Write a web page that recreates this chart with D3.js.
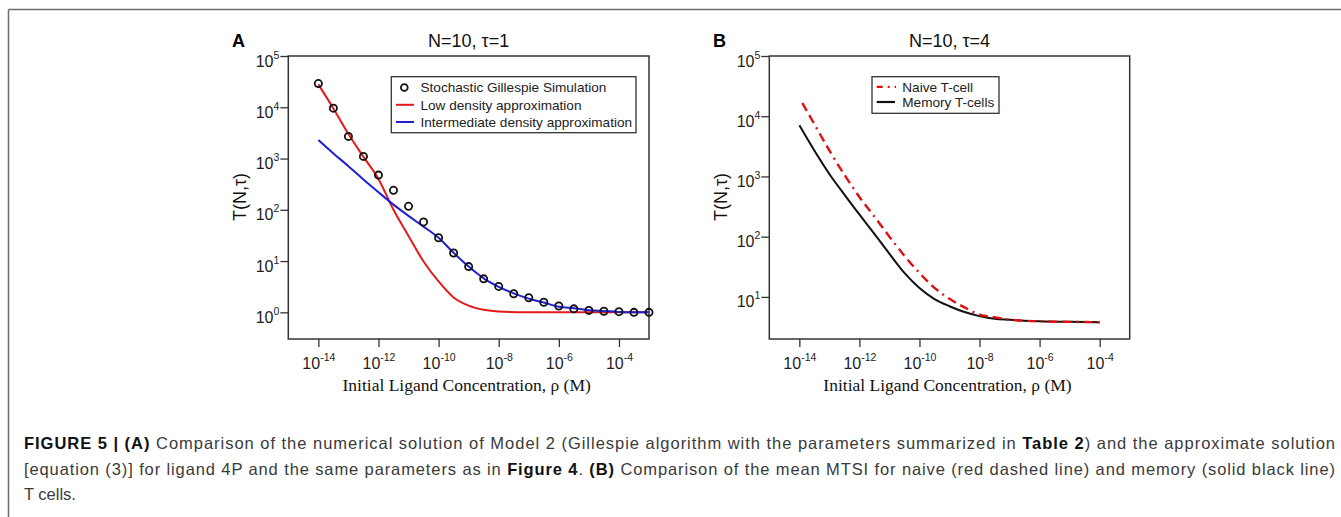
<!DOCTYPE html>
<html><head><meta charset="utf-8">
<script src="https://cdn.jsdelivr.net/npm/d3@7"></script>
<style>
html,body{margin:0;padding:0;background:#fff;}
svg{display:block;}
</style></head>
<body>
<svg id="fig" width="1341" height="517"></svg>
<script>
// ---------- DATA ----------
const xTickValues = [1e-14, 1e-12, 1e-10, 1e-8, 1e-6, 1e-4];
const xTickExps = ["-14", "-12", "-10", "-8", "-6", "-4"];
const yTickValuesA = [1e0, 1e1, 1e2, 1e3, 1e4, 1e5];
const yTickExpsA = ["0", "1", "2", "3", "4", "5"];
const yTickValuesB = [1e1, 1e2, 1e3, 1e4, 1e5];
const yTickExpsB = ["1", "2", "3", "4", "5"];

// Panel A: stochastic Gillespie simulation (circles)
const simConc = [1e-14, 3.16e-14, 1e-13, 3.16e-13, 1e-12, 3.16e-12, 1e-11, 3.16e-11, 1e-10, 3.16e-10,
  1e-9, 3.16e-9, 1e-8, 3.16e-8, 1e-7, 3.16e-7, 1e-6, 3.16e-6, 1e-5, 3.16e-5, 1e-4, 3.16e-4, 1e-3];
const simT = [29000, 9600, 2700, 1100, 475, 240, 117, 58, 28.5, 14.4,
  7.8, 4.5, 3.2, 2.3, 1.93, 1.57, 1.33, 1.17, 1.09, 1.05, 1.03, 1.0, 1.0];

// Panel A: low density approximation (red)
const lowConc = [1e-14, 3.16e-14, 1e-13, 3.16e-13, 1e-12, 3.16e-12, 1e-11, 3.16e-11, 1e-10, 3.16e-10,
  1e-9, 3.16e-9, 1e-8, 1e-7, 1e-6, 1e-5, 1e-4, 1e-3];
const lowT = [28000, 9500, 3000, 1080, 400, 100, 31, 9.8, 4.0, 1.95,
  1.35, 1.12, 1.035, 1.0, 1.0, 1.0, 1.0, 1.0];

// Panel A: intermediate density approximation (blue)
const midConc = [1e-14, 3.16e-14, 1e-13, 3.16e-13, 1e-12, 3.16e-12, 1e-11, 3.16e-11, 1e-10, 3.16e-10,
  1e-9, 3.16e-9, 1e-8, 3.16e-8, 1e-7, 3.16e-7, 1e-6, 3.16e-6, 1e-5, 3.16e-5, 1e-4, 3.16e-4, 1e-3];
const midT = [2300, 1260, 710, 390, 220, 126, 76, 47, 28.5, 14.5,
  7.8, 4.6, 3.15, 2.35, 1.85, 1.55, 1.29, 1.2, 1.1, 1.06, 1.02, 1.0, 1.0];

// Panel B: naive T-cell (red dashed)
const naiveConc = [1.26e-14, 3.16e-14, 1e-13, 3.16e-13, 1e-12, 3.16e-12, 1e-11, 3.16e-11, 1e-10, 3.16e-10,
  1e-9, 3.16e-9, 1e-8, 3.16e-8, 1e-7, 1e-6, 1e-5, 1e-4];
const naiveT = [16600, 7400, 2700, 1070, 457, 215, 100, 48, 25, 14.1,
  9.3, 6.7, 5.1, 4.6, 4.2, 3.94, 3.85, 3.8];

// Panel B: memory T-cells (black solid)
const memConc = [1e-14, 3.16e-14, 1e-13, 3.16e-13, 1e-12, 3.16e-12, 1e-11, 3.16e-11, 1e-10, 3.16e-10,
  1e-9, 3.16e-9, 1e-8, 3.16e-8, 1e-7, 1e-6, 1e-5, 1e-4];
const memT = [7100, 2700, 1100, 500, 234, 111, 52, 25, 14, 9.2,
  7.0, 5.6, 4.8, 4.33, 4.17, 3.94, 3.85, 3.8];

const titles = ["N=10, \u03C4=1", "N=10, \u03C4=4"];
const panelLetters = ["A", "B"];
const legendA = ["Stochastic Gillespie Simulation", "Low density approximation", "Intermediate density approximation"];
const legendB = ["Naive T-cell", "Memory T-cells"];
const xTitle = "Initial Ligand Concentration, \u03C1 (M)";
const yTitle = "T(N,\u03C4)";

// ---------- DRAW ----------
const svg = d3.select("#fig");
const sans = "Arial, 'Liberation Sans', Helvetica, sans-serif";
const serif = "'Times New Roman', 'Liberation Serif', Times, serif";

// figure frame
svg.append("line").attr("x1", 8.5).attr("x2", 1341).attr("y1", 9.5).attr("y2", 9.5)
  .attr("stroke", "#6b6b6b").attr("stroke-width", 1.5);
svg.append("line").attr("x1", 8.5).attr("x2", 8.5).attr("y1", 9.5).attr("y2", 517)
  .attr("stroke", "#6b6b6b").attr("stroke-width", 1.5);

function panel(cfg) {
  const {left, right, top, bottom, yDomain, yTicks, yExps} = cfg;
  const x = d3.scaleLog().domain([1e-15, 1e-3]).range([left, right]);
  const y = d3.scaleLog().domain(yDomain).range([bottom, top]);
  const g = svg.append("g");

  // x axis
  const xa = g.append("g").attr("transform", `translate(0,${bottom})`)
    .call(d3.axisBottom(x).tickValues(xTickValues).tickFormat(() => "").tickSizeOuter(0).tickSize(8));
  xa.select(".domain").remove();
  xa.selectAll(".tick line").attr("stroke", "#333").attr("stroke-width", 1.3);
  xa.selectAll(".tick").each(function(d, i) {
    const t = d3.select(this).select("text").attr("y", 30).attr("dy", null)
      .attr("text-anchor", "middle").attr("font-family", sans).attr("font-size", 16).attr("fill", "#222");
    t.append("tspan").text("10");
    t.append("tspan").attr("dy", -8).attr("font-size", 10.5).text(xTickExps[i]);
  });

  // y axis
  const ya = g.append("g").attr("transform", `translate(${left},0)`)
    .call(d3.axisLeft(y).tickValues(yTicks).tickFormat(() => "").tickSizeOuter(0).tickSize(8));
  ya.select(".domain").remove();
  ya.selectAll(".tick line").attr("stroke", "#333").attr("stroke-width", 1.3);
  ya.selectAll(".tick").each(function(d, i) {
    const t = d3.select(this).select("text").attr("x", -9).attr("dy", null).attr("y", 10)
      .attr("text-anchor", "end").attr("font-family", sans).attr("font-size", 16).attr("fill", "#222");
    t.append("tspan").text("10");
    t.append("tspan").attr("dy", -8).attr("font-size", 10.5).text(yExps[i]);
  });

  // box
  g.append("rect").attr("x", left).attr("y", top).attr("width", right - left).attr("height", bottom - top)
    .attr("fill", "none").attr("stroke", "#333").attr("stroke-width", 1.5);

  // titles
  g.append("text").attr("x", (left + right) / 2).attr("y", 47).attr("text-anchor", "middle")
    .attr("font-family", sans).attr("font-size", 18).attr("fill", "#111").text(cfg.title);
  g.append("text").attr("x", cfg.letterX).attr("y", 47).attr("font-family", sans).attr("font-weight", "bold")
    .attr("font-size", 18).attr("fill", "#000").text(cfg.letter);
  g.append("text").attr("x", (left + right) / 2 - 2).attr("y", 391).attr("text-anchor", "middle")
    .attr("font-family", serif).attr("font-size", 17.5).attr("fill", "#111").text(xTitle);
  g.append("text").attr("transform", `translate(${left - 42},197) rotate(-90)`).attr("text-anchor", "middle")
    .attr("font-family", sans).attr("font-size", 18).attr("fill", "#111").text(yTitle);

  return {x, y, g};
}

const A = panel({left: 288.3, right: 649, top: 56, bottom: 339, yDomain: [Math.pow(10, -0.52), 1e5],
  yTicks: yTickValuesA, yExps: yTickExpsA, title: titles[0], letter: panelLetters[0], letterX: 232});
const B = panel({left: 769.3, right: 1129.7, top: 56, bottom: 339, yDomain: [2, 1e5],
  yTicks: yTickValuesB, yExps: yTickExpsB, title: titles[1], letter: panelLetters[1], letterX: 713});

function drawLine(P, xs, ys, color, width, dash) {
  const data = xs.map((v, i) => [v, ys[i]]);
  const line = d3.line().x(d => P.x(d[0])).y(d => P.y(d[1])).curve(d3.curveMonotoneX);
  const p = P.g.append("path").datum(data).attr("d", line).attr("fill", "none")
    .attr("stroke", color).attr("stroke-width", width).attr("stroke-linejoin", "round");
  if (dash) p.attr("stroke-dasharray", dash);
  return p;
}

// Panel A
drawLine(A, lowConc, lowT, "#e31a1c", 2);
drawLine(A, midConc, midT, "#1f1fd6", 2);
A.g.selectAll("circle.sim").data(simConc).join("circle").attr("class", "sim")
  .attr("cx", d => A.x(d)).attr("cy", (d, i) => A.y(simT[i])).attr("r", 3.6)
  .attr("fill", "none").attr("stroke", "#111").attr("stroke-width", 1.8);

// Legend A
const lgA = A.g.append("g");
lgA.append("rect").attr("x", 391.3).attr("y", 76.7).attr("width", 244.7).attr("height", 56)
  .attr("fill", "#fff").attr("stroke", "#333").attr("stroke-width", 1.3);
const rowsA = [87.5, 104.8, 122];
lgA.append("circle").attr("cx", 404.3).attr("cy", rowsA[0]).attr("r", 3.4).attr("fill", "none")
  .attr("stroke", "#111").attr("stroke-width", 1.8);
lgA.append("line").attr("x1", 396).attr("x2", 414).attr("y1", rowsA[1]).attr("y2", rowsA[1])
  .attr("stroke", "#e31a1c").attr("stroke-width", 2);
lgA.append("line").attr("x1", 396).attr("x2", 414).attr("y1", rowsA[2]).attr("y2", rowsA[2])
  .attr("stroke", "#1f1fd6").attr("stroke-width", 2);
legendA.forEach((t, i) => lgA.append("text").attr("x", 420.5).attr("y", rowsA[i] + 4.7)
  .attr("font-family", sans).attr("font-size", 13.6).attr("fill", "#222").text(t));

// Panel B
drawLine(B, memConc, memT, "#111", 2);
drawLine(B, naiveConc, naiveT, "#e01010", 2.4, "9,5,9,5,2,5");

const lgB = B.g.append("g");
lgB.append("rect").attr("x", 872).attr("y", 76.7).attr("width", 127).attr("height", 36.6)
  .attr("fill", "#fff").attr("stroke", "#333").attr("stroke-width", 1.3);
const rowsB = [86.8, 102];
lgB.append("line").attr("x1", 876.7).attr("x2", 896).attr("y1", rowsB[0]).attr("y2", rowsB[0])
  .attr("stroke", "#e01010").attr("stroke-width", 2.2).attr("stroke-dasharray", "6,5,2,5");
lgB.append("line").attr("x1", 876.7).attr("x2", 895).attr("y1", rowsB[1]).attr("y2", rowsB[1])
  .attr("stroke", "#111").attr("stroke-width", 2.2);
legendB.forEach((t, i) => lgB.append("text").attr("x", 902.3).attr("y", rowsB[i] + 4.7)
  .attr("font-family", sans).attr("font-size", 13.6).attr("fill", "#222").text(t));

// ---------- CAPTION ----------
const captionLines = [
  [["FIGURE 5 | (A)", true], [" Comparison of the numerical solution of Model 2 (Gillespie algorithm with the parameters summarized in ", false], ["Table 2", true], [") and the approximate solution", false]],
  [["[equation (3)] for ligand 4P and the same parameters as in ", false], ["Figure 4", true], [". ", false], ["(B)", true], [" Comparison of the mean MTSI for naive (red dashed line) and memory (solid black line)", false]],
  [["T cells.", false]]
];
const capY = [449, 475, 500];
const capFit = [1311, 1311, null];
captionLines.forEach((segs, li) => {
  const t = svg.append("text").attr("x", 24).attr("y", capY[li]).attr("font-family", sans)
    .attr("font-size", 16.5).attr("fill", "#3a3a3a");
  segs.forEach(([s, b]) => {
    const ts = t.append("tspan").text(s);
    if (b) ts.attr("font-weight", "bold").attr("fill", "#111");
  });
  if (capFit[li]) t.attr("textLength", capFit[li]).attr("lengthAdjust", "spacing");
});
</script>
</body></html>
